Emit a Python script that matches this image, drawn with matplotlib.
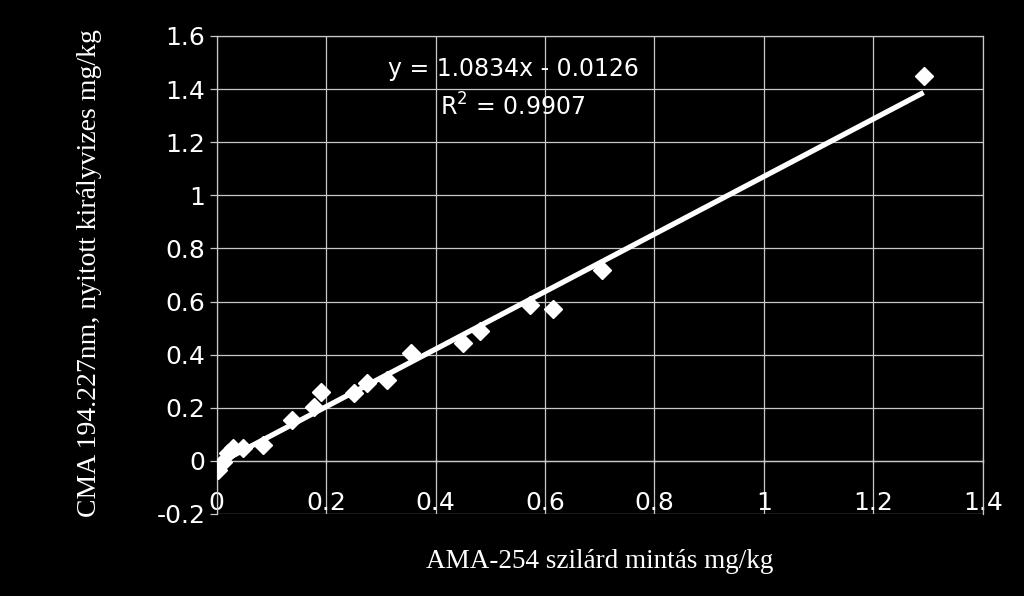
import numpy as np
import matplotlib
matplotlib.use("Agg")
import matplotlib.pyplot as plt

# AMA-254 (solid sample) vs CMA 194.227 nm (open aqua regia), mg/kg
ama_mgkg = [0.003, 0.012, 0.021, 0.030, 0.049, 0.085, 0.137, 0.177, 0.190, 0.251,
            0.274, 0.311, 0.356, 0.451, 0.481, 0.573, 0.615, 0.704, 1.292]
cma_mgkg = [-0.035, -0.003, 0.029, 0.048, 0.048, 0.060, 0.154, 0.204, 0.261, 0.255,
            0.292, 0.305, 0.405, 0.445, 0.489, 0.587, 0.572, 0.720, 1.449]

slope = 1.0834
intercept = -0.0126
r_squared = 0.9907

x_ticks = [0, 0.2, 0.4, 0.6, 0.8, 1.0, 1.2, 1.4]
x_labels = ["0", "0.2", "0.4", "0.6", "0.8", "1", "1.2", "1.4"]
y_ticks = [-0.2, 0, 0.2, 0.4, 0.6, 0.8, 1.0, 1.2, 1.4, 1.6]
y_labels = ["-0.2", "0", "0.2", "0.4", "0.6", "0.8", "1", "1.2", "1.4", "1.6"]

grid_col = "#c8c8c8"

fig = plt.figure(figsize=(10.24, 5.96), dpi=100, facecolor="black")
ax = fig.add_axes([0.2116, 0.1376, 0.7481, 0.8020], facecolor="black")

ax.set_xlim(0, 1.4)
ax.set_ylim(-0.2, 1.6)
ax.set_xticks(x_ticks)
ax.set_xticklabels(x_labels)
ax.set_yticks(y_ticks)
ax.set_yticklabels(y_labels)

ax.grid(True, color=grid_col, linewidth=0.9)
ax.set_axisbelow(True)

for side in ["left", "right", "top", "bottom"]:
    ax.spines[side].set_color(grid_col)
    ax.spines[side].set_linewidth(0.9)
ax.spines["bottom"].set_position(("data", 0))

ax.tick_params(axis="y", direction="out", length=5, width=0.9, color=grid_col,
               labelcolor="white", labelsize=18, pad=3)
ax.tick_params(axis="x", direction="inout", length=3, width=0.9, color=grid_col,
               labelcolor="white", labelsize=18, pad=20)
for lab in ax.get_xticklabels() + ax.get_yticklabels():
    lab.set_fontfamily("DejaVu Sans")

# points
ax.plot(ama_mgkg, cma_mgkg, linestyle="none", marker="D", markersize=9.5,
        color="white", markeredgecolor="white", zorder=3)

# linear trendline over the data range
xx = np.array([min(ama_mgkg), max(ama_mgkg)])
ax.plot(xx, slope * xx + intercept, color="white", linewidth=3.8,
        solid_capstyle="butt", zorder=4)

sign = "-" if intercept < 0 else "+"
ax.text(0.387, 0.931, f"y = {slope:.4f}x {sign} {abs(intercept):.4f}",
        transform=ax.transAxes, ha="center", va="center", color="white",
        fontsize=17, fontfamily="DejaVu Sans", zorder=5)
ax.text(0.386, 0.851, f"R$^2$ = {r_squared:.4f}",
        transform=ax.transAxes, ha="center", va="center", color="white",
        fontsize=17, fontfamily="DejaVu Sans", zorder=5)

fig.text(0.586, 1 - 562 / 596, "AMA-254 szilárd mintás mg/kg",
         ha="center", va="center", color="white", fontsize=19.5,
         fontfamily="Liberation Serif")
fig.text(90 / 1024, 1 - 273 / 596, "CMA 194.227nm, nyitott királyvizes mg/kg",
         ha="center", va="center", rotation=90, color="white", fontsize=20,
         fontfamily="Liberation Serif")

fig.savefig("out.png", dpi=100, facecolor="black")
